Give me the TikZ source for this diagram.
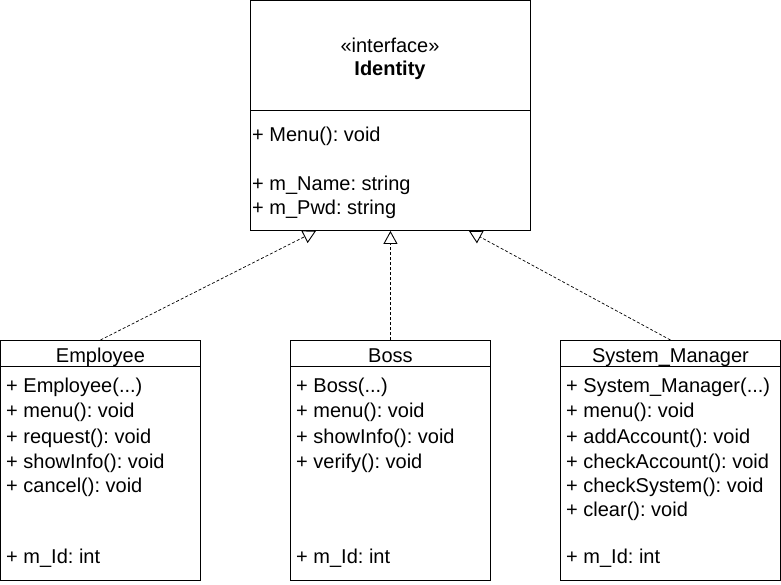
\documentclass[tikz,border=0pt]{standalone}
\usepackage{fontspec}
\setmainfont{Liberation Sans}
\usetikzlibrary{arrows.meta,positioning}
\frenchspacing

\begin{document}
\begin{tikzpicture}[x=1pt,y=-1pt,
box/.style={
draw,
line width=0.9pt,
rectangle,
inner sep=0pt,
anchor=north west,
text height=20pt,
text depth=2pt,
font=\fontsize{20}{23}\selectfont},
member/.style={
anchor=base west,
inner sep=0pt,
font=\fontsize{20}{23}\selectfont},
realize/.style={
line width=0.7pt,
dash pattern=on 3pt off 2pt,
-{Triangle[open,width=14pt,length=13pt,line width=0.9pt]}}]
\useasboundingbox (0,0) rectangle (781,584);

% interface
\node[box,minimum width=280pt,minimum height=110pt](identity-head) at (250,0) {};
\node[member,anchor=base] at (390,52) {«interface»};
\node[member,anchor=base] at (390,75) {\textbf{Identity}};
\node[box,minimum width=280pt,minimum height=120pt](identity) at (250,110) {};
\node[member] at (252,141) {+ Menu(): void};
\node[member] at (252,190) {+ m\_Name: string};
\node[member] at (252,214) {+ m\_Pwd: string};

% Employee
\node[box,minimum width=200pt,minimum height=26pt](employee-head) at (0,340) {Employee};
\node[box,minimum width=200pt,minimum height=214pt](employee) at (0,366) {};
\node[member] at (6,392) {+ Employee(...)};
\node[member] at (6,417) {+ menu(): void};
\node[member] at (6,443) {+ request(): void};
\node[member] at (6,468) {+ showInfo(): void};
\node[member] at (6,492) {+ cancel(): void};
\node[member] at (6,563) {+ m\_Id: int};

% Boss
\node[box,minimum width=200pt,minimum height=26pt](boss-head) at (290,340) {Boss};
\node[box,minimum width=200pt,minimum height=214pt](boss) at (290,366) {};
\node[member] at (296,392) {+ Boss(...)};
\node[member] at (296,417) {+ menu(): void};
\node[member] at (296,443) {+ showInfo(): void};
\node[member] at (296,468) {+ verify(): void};
\node[member] at (296,563) {+ m\_Id: int};

% System_Manager
\node[box,minimum width=220pt,minimum height=26pt](manager-head) at (560,340) {System\_Manager};
\node[box,minimum width=220pt,minimum height=214pt](manager) at (560,366) {};
\node[member] at (566,392) {+ System\_Manager(...)};
\node[member] at (566,417) {+ menu(): void};
\node[member] at (566,443) {+ addAccount(): void};
\node[member] at (566,468) {+ checkAccount(): void};
\node[member] at (566,492) {+ checkSystem(): void};
\node[member] at (566,516) {+ clear(): void};
\node[member] at (566,563) {+ m\_Id: int};

\draw[realize] (employee-head.north) -- ([xshift=66pt]identity.south west);
\draw[realize] (boss-head.north) -- (identity.south);
\draw[realize] (manager-head.north) -- ([xshift=-62pt]identity.south east);
\end{tikzpicture}
\end{document}
